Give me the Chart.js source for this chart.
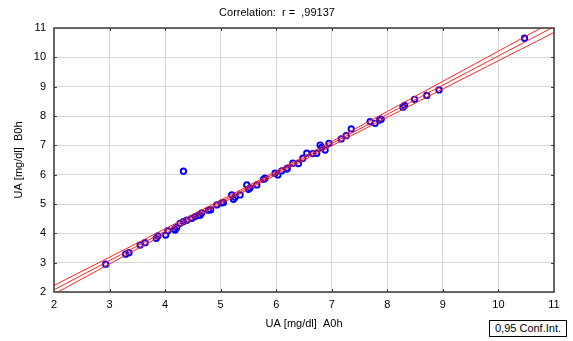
<!DOCTYPE html>
<html>
<head>
<meta charset="utf-8">
<script src="https://cdn.jsdelivr.net/npm/chart.js@4"></script>
<style>
    html, body { margin: 0; padding: 0; background: #fff; }
    #wrap { position: relative; width: 573px; height: 341px; }
    #ciBox {
        position: absolute; left: 489px; top: 320px; width: 78px; height: 17px;
        border: 1px solid #000; box-sizing: border-box;
        font: 11px "Liberation Sans", Arial, sans-serif; color: #000;
        text-align: center; line-height: 15px; background: #fff;
    }
</style>
</head>
<body>
<div id="wrap">
    <canvas id="corrChart" width="573" height="341"></canvas>
    <div id="ciBox">0,95 Conf.Int.</div>
</div>
<script>
// UA [mg/dl] A0h (x) and B0h (y)
const uaA0h = [2.93, 3.29, 3.35, 3.55, 3.64, 3.84, 3.87, 4.01, 4.05, 4.18, 4.17, 4.21, 4.27, 4.33,
    4.39, 4.48, 4.54, 4.60, 4.63, 4.66, 4.78, 4.82, 4.93, 5.02, 5.05, 5.20, 5.23, 5.26, 5.35,
    5.47, 5.50, 5.53, 5.65, 5.77, 5.80, 5.98, 6.03, 6.10, 6.19, 6.20, 6.30, 6.40, 6.48, 6.55,
    6.66, 6.73, 6.79, 6.82, 6.88, 6.95, 7.17, 7.26, 7.35, 7.69, 7.78, 7.86, 7.89, 8.28, 8.31,
    8.49, 8.71, 8.93, 10.47, 4.33];
const uaB0h = [2.95, 3.29, 3.34, 3.60, 3.68, 3.83, 3.91, 3.94, 4.09, 4.11, 4.14, 4.20, 4.34, 4.40,
    4.45, 4.51, 4.57, 4.62, 4.62, 4.70, 4.79, 4.80, 4.97, 5.04, 5.05, 5.31, 5.16, 5.23, 5.31,
    5.65, 5.50, 5.55, 5.65, 5.84, 5.88, 6.05, 5.99, 6.13, 6.19, 6.22, 6.39, 6.38, 6.56, 6.73,
    6.72, 6.73, 7.01, 6.93, 6.84, 7.07, 7.22, 7.33, 7.56, 7.81, 7.75, 7.86, 7.89, 8.30, 8.36,
    8.57, 8.70, 8.89, 10.65, 6.12];
const xRange = [2, 11];
const yRange = [2, 11];
const confLevelT = 2.0; // ~t(0.975, n-2)

// linear regression + 95% confidence band for the mean
const n = uaA0h.length;
const mx = uaA0h.reduce((a, b) => a + b, 0) / n;
const my = uaB0h.reduce((a, b) => a + b, 0) / n;
let sxx = 0, sxy = 0;
for (let i = 0; i < n; i++) {
    sxx += (uaA0h[i] - mx) ** 2;
    sxy += (uaA0h[i] - mx) * (uaB0h[i] - my);
}
const slope = sxy / sxx;
const icpt = my - slope * mx;
let sse = 0;
for (let i = 0; i < n; i++) sse += (uaB0h[i] - (icpt + slope * uaA0h[i])) ** 2;
const se = Math.sqrt(sse / (n - 2));

const fitLine = [], ciUpper = [], ciLower = [];
for (let k = 0; k <= 45; k++) {
    const x = xRange[0] + (xRange[1] - xRange[0]) * k / 45;
    const yh = icpt + slope * x;
    const h = confLevelT * se * Math.sqrt(1 / n + (x - mx) ** 2 / sxx);
    fitLine.push({x: x, y: yh});
    ciUpper.push({x: x, y: yh + h});
    ciLower.push({x: x, y: yh - h});
}

const points = uaA0h.map((x, i) => ({x: x, y: uaB0h[i]}));

// frame round the plot area with small inward ticks
const frameTicks = {
    id: 'frameTicks',
    afterDraw(chart) {
        const {ctx, chartArea: a, scales} = chart;
        ctx.save();
        ctx.strokeStyle = '#3a3a3a';
        ctx.lineWidth = 1.5;
        ctx.strokeRect(a.left, a.top, a.right - a.left, a.bottom - a.top);
        ctx.lineWidth = 1;
        ctx.beginPath();
        for (let v = xRange[0] + 1; v < xRange[1]; v++) {
            const px = Math.round(scales.x.getPixelForValue(v)) + 0.5;
            ctx.moveTo(px, a.top); ctx.lineTo(px, a.top + 3);
            ctx.moveTo(px, a.bottom); ctx.lineTo(px, a.bottom - 3);
        }
        for (let v = yRange[0] + 1; v < yRange[1]; v++) {
            const py = Math.round(scales.y.getPixelForValue(v)) + 0.5;
            ctx.moveTo(a.left, py); ctx.lineTo(a.left + 3, py);
            ctx.moveTo(a.right, py); ctx.lineTo(a.right - 3, py);
        }
        ctx.stroke();
        ctx.restore();
    }
};

const font = {family: '"Liberation Sans", Arial, sans-serif', size: 11, weight: 'normal'};

new Chart(document.getElementById('corrChart'), {
    type: 'scatter',
    data: {
        datasets: [
            {
                type: 'line', data: ciUpper, borderColor: '#ff2020', borderWidth: 1,
                pointRadius: 0, fill: false, tension: 0
            },
            {
                type: 'line', data: fitLine, borderColor: '#ff2020', borderWidth: 1,
                pointRadius: 0, fill: false, tension: 0
            },
            {
                type: 'line', data: ciLower, borderColor: '#ff2020', borderWidth: 1,
                pointRadius: 0, fill: false, tension: 0
            },
            {
                data: points, showLine: false,
                pointStyle: 'circle', pointRadius: 2.7, pointBorderWidth: 1.9,
                pointBorderColor: '#0000ff', pointBackgroundColor: 'rgba(0,0,0,0)'
            }
        ]
    },
    options: {
        responsive: false,
        animation: false,
        layout: {padding: {left: 0, right: 19, top: 0, bottom: 0}},
        plugins: {
            legend: {display: false},
            tooltip: {enabled: false},
            title: {
                display: true,
                text: 'Correlation:  r =  ,99137',
                color: '#000',
                font: font,
                padding: {top: 6, bottom: 8.8}
            }
        },
        scales: {
            x: {
                type: 'linear', min: xRange[0], max: xRange[1],
                ticks: {stepSize: 1, color: '#000', font: font, padding: 6, maxRotation: 0},
                grid: {color: '#d6d6d6', drawTicks: false},
                border: {display: false},
                title: {display: true, text: 'UA [mg/dl]  A0h', color: '#000', font: font,
                        padding: {top: 0, bottom: 10}},
                afterFit(scale) { scale.height = 49; }
            },
            y: {
                type: 'linear', min: yRange[0], max: yRange[1],
                ticks: {stepSize: 1, color: '#000', font: font, padding: 8},
                grid: {color: '#d6d6d6', drawTicks: false},
                border: {display: false},
                title: {display: true, text: 'UA [mg/dl]  B0h', color: '#000', font: font,
                        padding: {top: 12, bottom: 0}},
                afterFit(scale) { scale.width = 54; }
            }
        }
    },
    plugins: [frameTicks]
});
</script>
</body>
</html>
